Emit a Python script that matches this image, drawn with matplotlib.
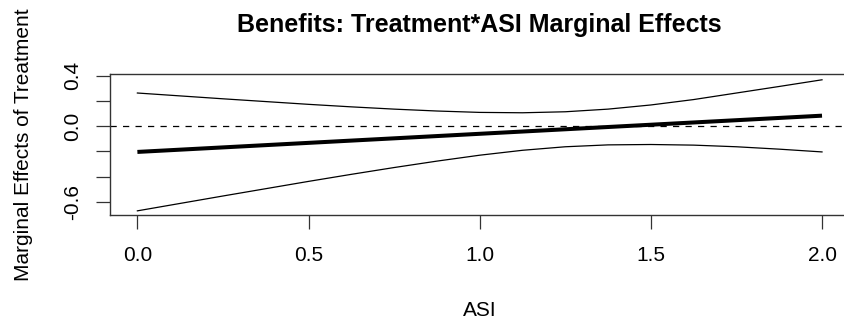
import matplotlib.pyplot as plt
import numpy as np

# ASI grid and the marginal effect of treatment with its 95% band
asi = [0.0, 0.125, 0.25, 0.375, 0.5, 0.625, 0.75, 0.875, 1.0,
       1.125, 1.25, 1.375, 1.5, 1.625, 1.75, 1.875, 2.0]
effect = [-0.204, -0.186, -0.168, -0.150, -0.132, -0.114, -0.096, -0.078, -0.060,
          -0.042, -0.024, -0.006, 0.012, 0.030, 0.048, 0.066, 0.084]
upper = [0.264, 0.241, 0.218, 0.196, 0.174, 0.154, 0.136, 0.121, 0.110,
         0.107, 0.115, 0.136, 0.169, 0.212, 0.264, 0.316, 0.369]
lower = [-0.672, -0.613, -0.554, -0.496, -0.438, -0.382, -0.328, -0.277, -0.230,
         -0.191, -0.163, -0.148, -0.145, -0.150, -0.163, -0.182, -0.204]

xticks = [0.0, 0.5, 1.0, 1.5, 2.0]
yticks = [-0.6, -0.4, -0.2, 0.0, 0.2, 0.4]
ytick_labels = ["-0.6", "", "", "0.0", "", "0.4"]

plt.rcParams['font.family'] = ['Liberation Sans', 'DejaVu Sans']

fig = plt.figure(figsize=(8.44, 3.2), dpi=100)
ax = fig.add_axes([110 / 844, 105 / 320, 739.4 / 844, 141 / 320])

ax.plot(asi, effect, color='black', lw=2.9, solid_capstyle='butt')
ax.plot(asi, upper, color='black', lw=0.9)
ax.plot(asi, lower, color='black', lw=0.9)
ax.axhline(0, color='black', lw=0.9, linestyle=(0, (5, 5)))

ax.set_xlim(-0.08, 2.08)
ax.set_ylim(-0.705, 0.415)

ax.set_xticks(xticks)
ax.set_xticklabels(["%.1f" % v for v in xticks])
ax.set_yticks(yticks)
ax.set_yticklabels(ytick_labels, rotation=90, va='center')

ax.tick_params(axis='both', length=10, width=0.9, labelsize=15, color='#333333')
ax.tick_params(axis='x', pad=12)
ax.tick_params(axis='y', pad=10)
for s in ax.spines.values():
    s.set_linewidth(1.0)
    s.set_color('#333333')

ax.set_xlabel('ASI', fontsize=15, labelpad=26)
ax.set_ylabel('Marginal Effects of Treatment', fontsize=15, labelpad=22)
ax.set_title('Benefits: Treatment*ASI Marginal Effects', fontsize=18,
             fontweight='bold', pad=30)

fig.savefig('out.png', dpi=100)
